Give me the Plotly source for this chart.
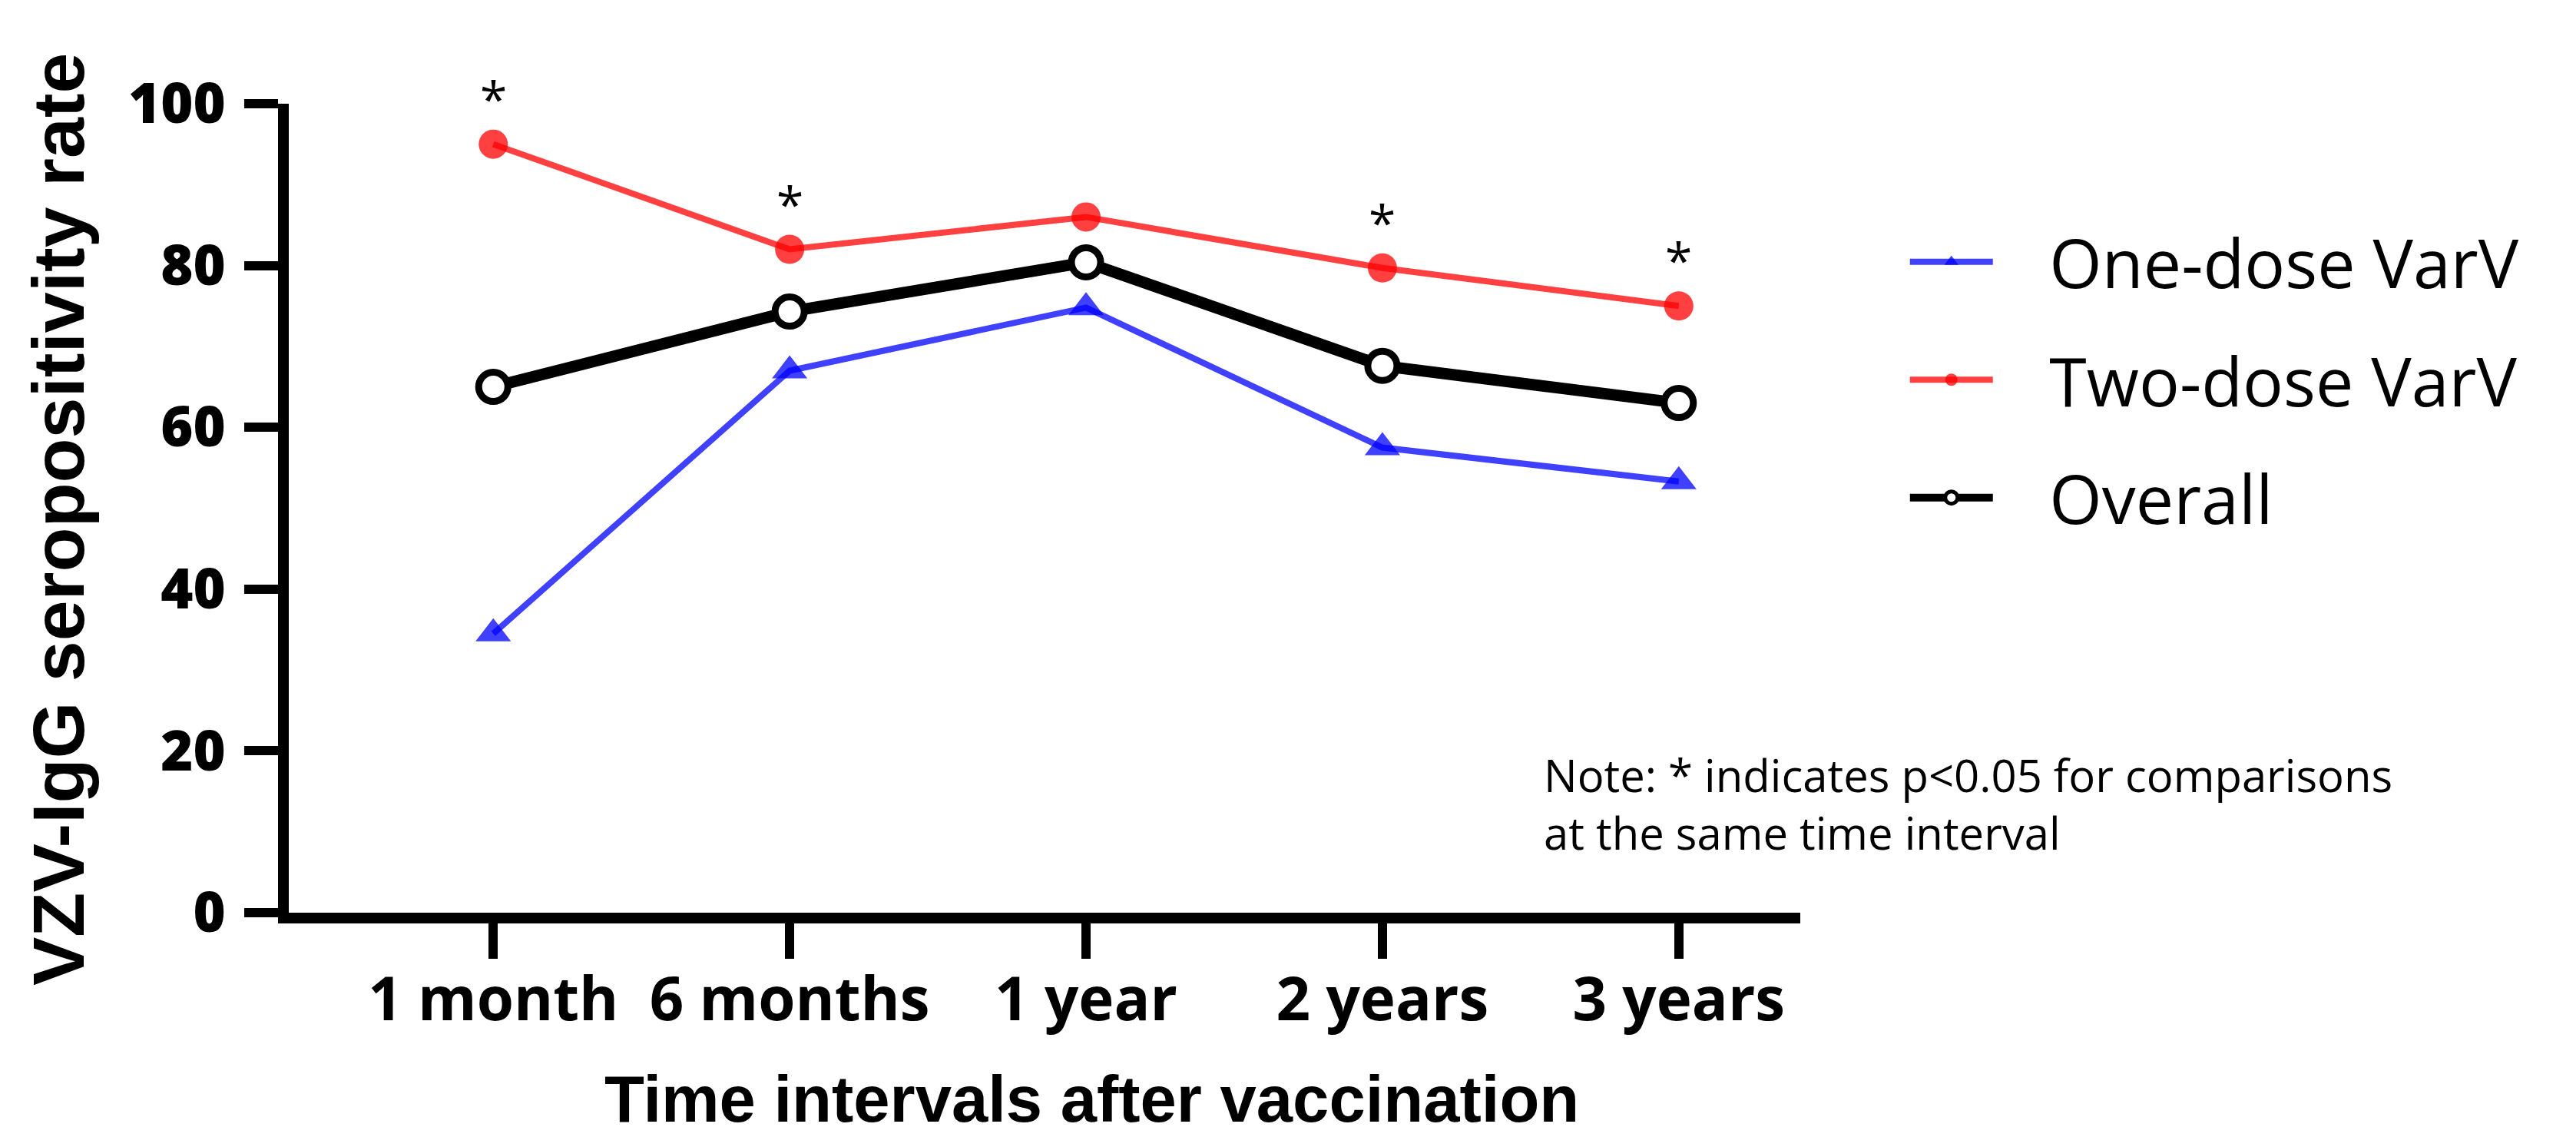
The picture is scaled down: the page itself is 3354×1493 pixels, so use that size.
import plotly.graph_objects as go

# ---- data ----
categories = ["1 month", "6 months", "1 year", "2 years", "3 years"]
one_dose = [34.5, 67.0, 74.8, 57.5, 53.3]
two_dose = [95.0, 82.0, 86.0, 79.7, 75.0]
overall = [65.0, 74.3, 80.4, 67.6, 63.0]
significant = [True, True, False, True, True]
series_names = ["One-dose VarV", "Two-dose VarV", "Overall"]
y_ticks = [0, 20, 40, 60, 80, 100]

W, H = 3354, 1493
L, R, T, B = 368, 1018, 127, 313

BLUE = "rgba(0,0,255,0.75)"
RED = "rgba(255,0,0,0.75)"
GAP = "\u00a0\u00a0\u00a0"  # spacing between legend symbol and label

fig = go.Figure()

fig.add_trace(go.Scatter(
    x=categories, y=one_dose, name=GAP + series_names[0], mode="lines+markers",
    legendgroup="a",
    line=dict(color=BLUE, width=8),
    marker=dict(symbol="triangle-up", size=40, color=BLUE, line=dict(width=0)),
))
fig.add_trace(go.Scatter(
    x=categories, y=two_dose, name=GAP + series_names[1], mode="lines+markers",
    legendgroup="b",
    line=dict(color=RED, width=8),
    marker=dict(symbol="circle", size=38, color=RED, line=dict(width=0)),
))
fig.add_trace(go.Scatter(
    x=categories, y=overall, name=GAP + series_names[2], mode="lines+markers",
    legendgroup="c",
    line=dict(color="black", width=15),
    marker=dict(symbol="circle", size=38, color="white", line=dict(width=9, color="black")),
))

annotations = []
for c, v, s in zip(categories, two_dose, significant):
    if s:
        annotations.append(dict(
            x=c, y=v, xref="x", yref="y", text="*", showarrow=False,
            yanchor="bottom", yshift=14,
            font=dict(family="Open Sans", size=64, color="black"),
        ))

annotations.append(dict(
    x=(1413 - L) / (W - L - R), y=(1180 - 1422) / (H - T - B),
    xref="paper", yref="paper", text="<b>Time intervals after vaccination</b>",
    showarrow=False, xanchor="center", yanchor="middle",
    font=dict(family="Liberation Sans", size=85, color="black"),
))
annotations.append(dict(
    x=(68 - L) / (W - L - R), y=(1180 - 668) / (H - T - B),
    xref="paper", yref="paper", text="<b>VZV-IgG seropositivity rate</b>",
    showarrow=False, xanchor="center", yanchor="middle", textangle=-90,
    font=dict(family="Liberation Sans", size=95, color="black"),
))
annotations.append(dict(
    x=(2000 - L) / (W - L - R), y=(1180 - 1038) / (H - T - B),
    xref="paper", yref="paper",
    text="Note: * indicates p<0.05 for comparisons<br>at the same time interval",
    showarrow=False, xanchor="left", yanchor="middle", align="left",
    font=dict(family="Open Sans", size=58, color="black"),
))

fig.update_layout(
    width=W, height=H,
    margin=dict(l=L, r=R, t=T, b=B, autoexpand=False),
    paper_bgcolor="white", plot_bgcolor="white",
    showlegend=True,
    legend=dict(
        x=1.07, xanchor="left", y=0.865, yanchor="top",
        font=dict(family="Open Sans", size=88, color="black"),
        traceorder="grouped", tracegroupgap=36,
        itemwidth=108, bgcolor="rgba(0,0,0,0)",
    ),
    annotations=annotations,
)

fig.update_xaxes(
    type="category", range=[-0.69, 4.41],
    showline=True, linecolor="black", linewidth=14,
    ticks="outside", ticklen=46, tickwidth=12, tickcolor="black",
    showgrid=False, zeroline=False,
    tickfont=dict(family="Open Sans", size=78, color="black", weight="bold"),
    ticklabelstandoff=-14,
)
fig.update_yaxes(
    range=[0, 100], tickmode="array", tickvals=y_ticks,
    showline=True, linecolor="black", linewidth=14,
    ticks="outside", ticklen=44, tickwidth=12, tickcolor="black",
    showgrid=False, zeroline=False,
    tickfont=dict(family="Open Sans", size=72, color="black", weight=800),
    ticklabelstandoff=10,
)

fig.write_html("out.html")
